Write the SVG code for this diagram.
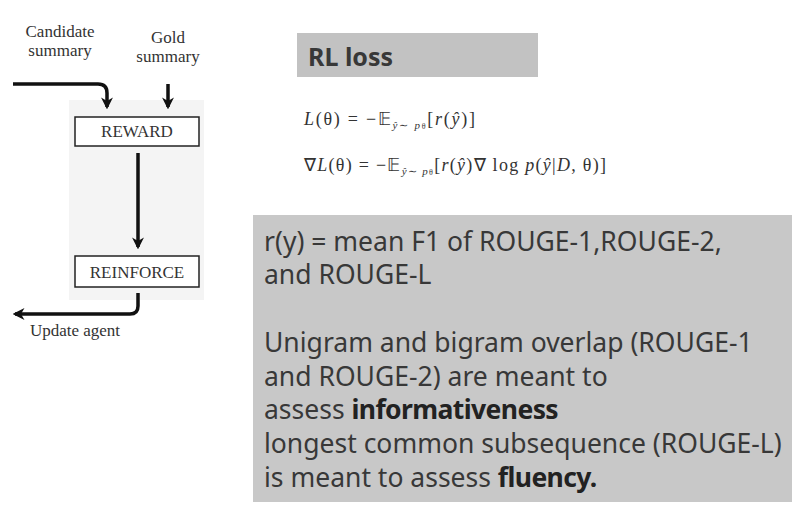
<svg xmlns="http://www.w3.org/2000/svg" width="795" height="510" viewBox="0 0 795 510">
<defs>
<style>
.box{fill:#fff;stroke:#222;stroke-width:1.5}
.lbl{font-family:"Liberation Serif","Times New Roman",serif;font-size:17px;fill:#333;text-anchor:middle}
.conn{fill:none;stroke:#111;stroke-width:3.5}
.sans{font-family:"Noto Sans","Open Sans","Liberation Sans",sans-serif;fill:#383838}
.math{font-family:"Liberation Serif",serif;font-size:18px;fill:#333}
.b{font-weight:bold;fill:#222;letter-spacing:-0.6px}
</style>
<marker id="ah" viewBox="0 0 10 10" refX="8" refY="5" markerWidth="3.4" markerHeight="3.4" orient="auto">
<path d="M0,0 L10,5 L0,10 L3,5 Z" fill="#111"/>
</marker>
</defs>
<rect width="795" height="510" fill="#fff"/>
<rect x="69" y="100" width="135" height="200" fill="#f4f4f4"/>
<g id="candidate"><text class="lbl" x="60" y="37">Candidate</text><text class="lbl" x="60" y="56">summary</text></g>
<g id="gold"><text class="lbl" x="168" y="43">Gold</text><text class="lbl" x="168" y="62">summary</text></g>
<g id="reward"><rect class="box" x="75" y="117" width="124" height="29"/><text class="lbl" x="137" y="137" font-size="15.5">REWARD</text></g>
<g id="reinforce"><rect class="box" x="75" y="256" width="124" height="31"/><text class="lbl" x="137" y="278" font-size="15.5">REINFORCE</text></g>
<g id="update"><text class="lbl" x="75" y="336">Update agent</text></g>
<g id="connectors">
<path class="conn" d="M13,84 H98 Q107,84 107,93 V107" marker-end="url(#ah)"/>
<path class="conn" d="M168,84 V107" marker-end="url(#ah)"/>
<path class="conn" d="M138,153 V247" marker-end="url(#ah)"/>
<path class="conn" d="M138,293 V306 Q138,314 130,314 H15" marker-end="url(#ah)"/>
</g>
<g id="rlloss"><rect x="297" y="33" width="241" height="44" fill="#c2c2c2"/><text class="sans" x="308" y="66" font-size="25" font-weight="bold" fill="#222">RL loss</text></g>
<g id="formulas">
<text class="math" x="304" y="125" textLength="171" lengthAdjust="spacing"><tspan font-style="italic">L</tspan>(θ) = −𝔼<tspan font-size="11" dy="4"><tspan font-style="italic">ŷ</tspan>∼ <tspan font-style="italic">p</tspan><tspan font-size="8">θ</tspan></tspan><tspan dy="-4">[<tspan font-style="italic">r</tspan>(<tspan font-style="italic">ŷ</tspan>)]</tspan></text>
<text class="math" x="304" y="171" textLength="302" lengthAdjust="spacing">∇<tspan font-style="italic">L</tspan>(θ) = −𝔼<tspan font-size="11" dy="4"><tspan font-style="italic">ŷ</tspan>∼ <tspan font-style="italic">p</tspan><tspan font-size="8">θ</tspan></tspan><tspan dy="-4">[<tspan font-style="italic">r</tspan>(<tspan font-style="italic">ŷ</tspan>)∇ log <tspan font-style="italic">p</tspan>(<tspan font-style="italic">ŷ</tspan>|<tspan font-style="italic">D</tspan>, θ)]</tspan></text>
</g>
<g id="rouge">
<rect x="253" y="215" width="539" height="287" fill="#c8c8c8"/>
<g class="sans" font-size="26.5">
<text x="264" y="251">r(y) = mean F1 of ROUGE-1,ROUGE-2,</text>
<text x="264" y="284">and ROUGE-L</text>
<text x="264" y="352">Unigram and bigram overlap (ROUGE-1</text>
<text x="264" y="386">and ROUGE-2) are meant to</text>
<text x="264" y="419">assess <tspan class="b">informativeness</tspan></text>
<text x="264" y="453">longest common subsequence (ROUGE-L)</text>
<text x="264" y="487">is meant to assess <tspan class="b">fluency.</tspan></text>
</g>
</g>
</svg>
